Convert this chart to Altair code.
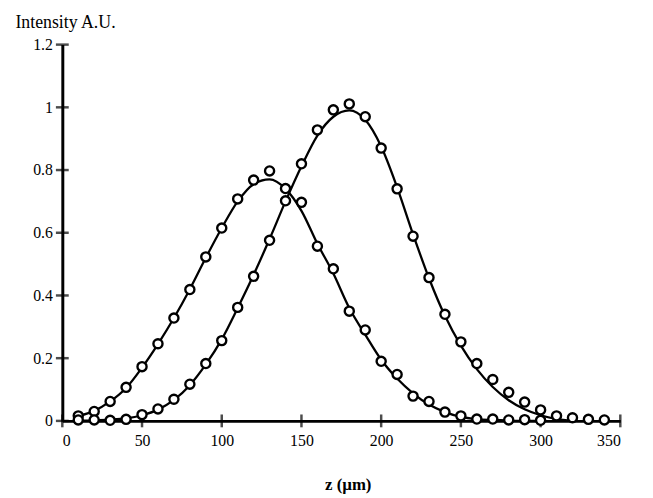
import altair as alt
import pandas as pd

# Measured points (z in µm, intensity A.U.)
z_a = [10, 20, 30, 40, 50, 60, 70, 80, 90, 100, 110, 120, 130, 140, 150,
       160, 170, 180, 190, 200, 210, 220, 230, 240, 250, 260, 270, 280, 290, 300]
i_a = [0.016, 0.030, 0.062, 0.107, 0.173, 0.246, 0.328, 0.419, 0.523, 0.615,
       0.708, 0.768, 0.797, 0.741, 0.697, 0.557, 0.485, 0.350, 0.290, 0.190,
       0.148, 0.079, 0.062, 0.028, 0.016, 0.006, 0.006, 0.003, 0.004, 0.002]

z_b = [10, 20, 30, 40, 50, 60, 70, 80, 90, 100, 110, 120, 130, 140, 150, 160, 170,
       180, 190, 200, 210, 220, 230, 240, 250, 260, 270, 280, 290, 300, 310, 320, 330, 340]
i_b = [0.003, 0.003, 0.002, 0.005, 0.020, 0.038, 0.069, 0.117, 0.183, 0.256, 0.362,
       0.461, 0.576, 0.702, 0.820, 0.928, 0.992, 1.011, 0.970, 0.870, 0.740, 0.589,
       0.457, 0.340, 0.252, 0.183, 0.132, 0.091, 0.060, 0.035, 0.016, 0.010, 0.005, 0.003]

# Fitted curves
fz_a = [10, 20, 30, 40, 50, 60, 70, 80, 90, 100, 110, 120, 130, 140, 150,
        160, 170, 180, 190, 200, 210, 220, 230, 240, 250, 260, 270, 280, 290, 300]
fi_a = [0.015, 0.032, 0.062, 0.105, 0.170, 0.245, 0.328, 0.420, 0.520, 0.615,
        0.700, 0.755, 0.770, 0.740, 0.670, 0.565, 0.470, 0.360, 0.275, 0.195,
        0.135, 0.088, 0.052, 0.028, 0.013, 0.006, 0.003, 0.001, 0.0, 0.0]

fz_b = [10, 20, 30, 40, 50, 60, 70, 80, 90, 100, 110, 120, 130, 140, 150, 160,
        170, 180, 190, 200, 210, 220, 230, 240, 250, 260, 270, 280, 290, 300, 310, 320]
fi_b = [0.001, 0.002, 0.004, 0.008, 0.018, 0.036, 0.067, 0.114, 0.180, 0.260,
        0.360, 0.466, 0.580, 0.700, 0.812, 0.910, 0.970, 0.990, 0.960, 0.875,
        0.745, 0.595, 0.455, 0.335, 0.240, 0.165, 0.108, 0.066, 0.037, 0.018, 0.006, 0.001]

x_ticks = [0, 50, 100, 150, 200, 250, 300, 350]
y_ticks = [0, 0.2, 0.4, 0.6, 0.8, 1.0, 1.2]

pts = pd.concat([
    pd.DataFrame({"z": z_a, "i": i_a, "s": "a"}),
    pd.DataFrame({"z": z_b, "i": i_b, "s": "b"}),
])
fits = pd.concat([
    pd.DataFrame({"z": fz_a, "i": fi_a, "s": "a"}),
    pd.DataFrame({"z": fz_b, "i": fi_b, "s": "b"}),
])
xt = pd.DataFrame({"t": x_ticks})
yt = pd.DataFrame({"t": y_ticks})

FONT = "Liberation Serif"

xscale = alt.Scale(domain=[0, 350], nice=False, zero=False)
yscale = alt.Scale(domain=[0, 1.2], nice=False, zero=False)

xaxis = alt.Axis(values=x_ticks, format="d", grid=False, ticks=False, tickSize=0,
                 domainColor="black", domainWidth=3,
                 labelFont=FONT, labelFontSize=16, labelColor="black", labelPadding=12,
                 title="z (µm)", titleFont=FONT, titleFontSize=17, titleFontWeight="bold",
                 titleColor="black", titleX=289, titleY=69, titleBaseline="alphabetic",
                 titleAlign="center")
yaxis = alt.Axis(values=y_ticks, format=".1~f", grid=False, ticks=False, tickSize=0,
                 domainColor="black", domainWidth=3,
                 labelFont=FONT, labelFontSize=16, labelColor="black", labelPadding=10,
                 title="Intensity A.U.", titleFont=FONT, titleFontSize=18,
                 titleFontWeight="normal", titleColor="black", titleAngle=0,
                 titleX=-48, titleY=-17, titleAlign="left", titleBaseline="alphabetic")

lines = alt.Chart(fits).mark_line(interpolate="monotone", color="black", strokeWidth=2.3).encode(
    x=alt.X("z:Q", scale=xscale, axis=xaxis),
    y=alt.Y("i:Q", scale=yscale, axis=yaxis),
    detail="s:N",
)
points = alt.Chart(pts).mark_point(shape="circle", filled=True, fill="white", stroke="black",
                                   strokeWidth=2.4, size=85, opacity=1).encode(
    x=alt.X("z:Q", scale=xscale),
    y=alt.Y("i:Q", scale=yscale),
)
xticks = alt.Chart(xt).mark_tick(orient="vertical", size=13, thickness=2.5, color="black").encode(
    x=alt.X("t:Q", scale=xscale),
    y=alt.datum(0),
)
yticks = alt.Chart(yt).mark_tick(orient="horizontal", size=13, thickness=2.5, color="black").encode(
    x=alt.datum(0),
    y=alt.Y("t:Q", scale=yscale),
)

chart = alt.layer(lines, xticks, yticks, points).properties(
    width=565, height=381,
    autosize=alt.AutoSizeParams(type="none"),
    padding={"left": 55, "top": 34, "right": 25, "bottom": 75},
    background="white",
).configure_view(stroke=None)

chart.save("out.html", embed_options={"renderer": "svg", "actions": False})
